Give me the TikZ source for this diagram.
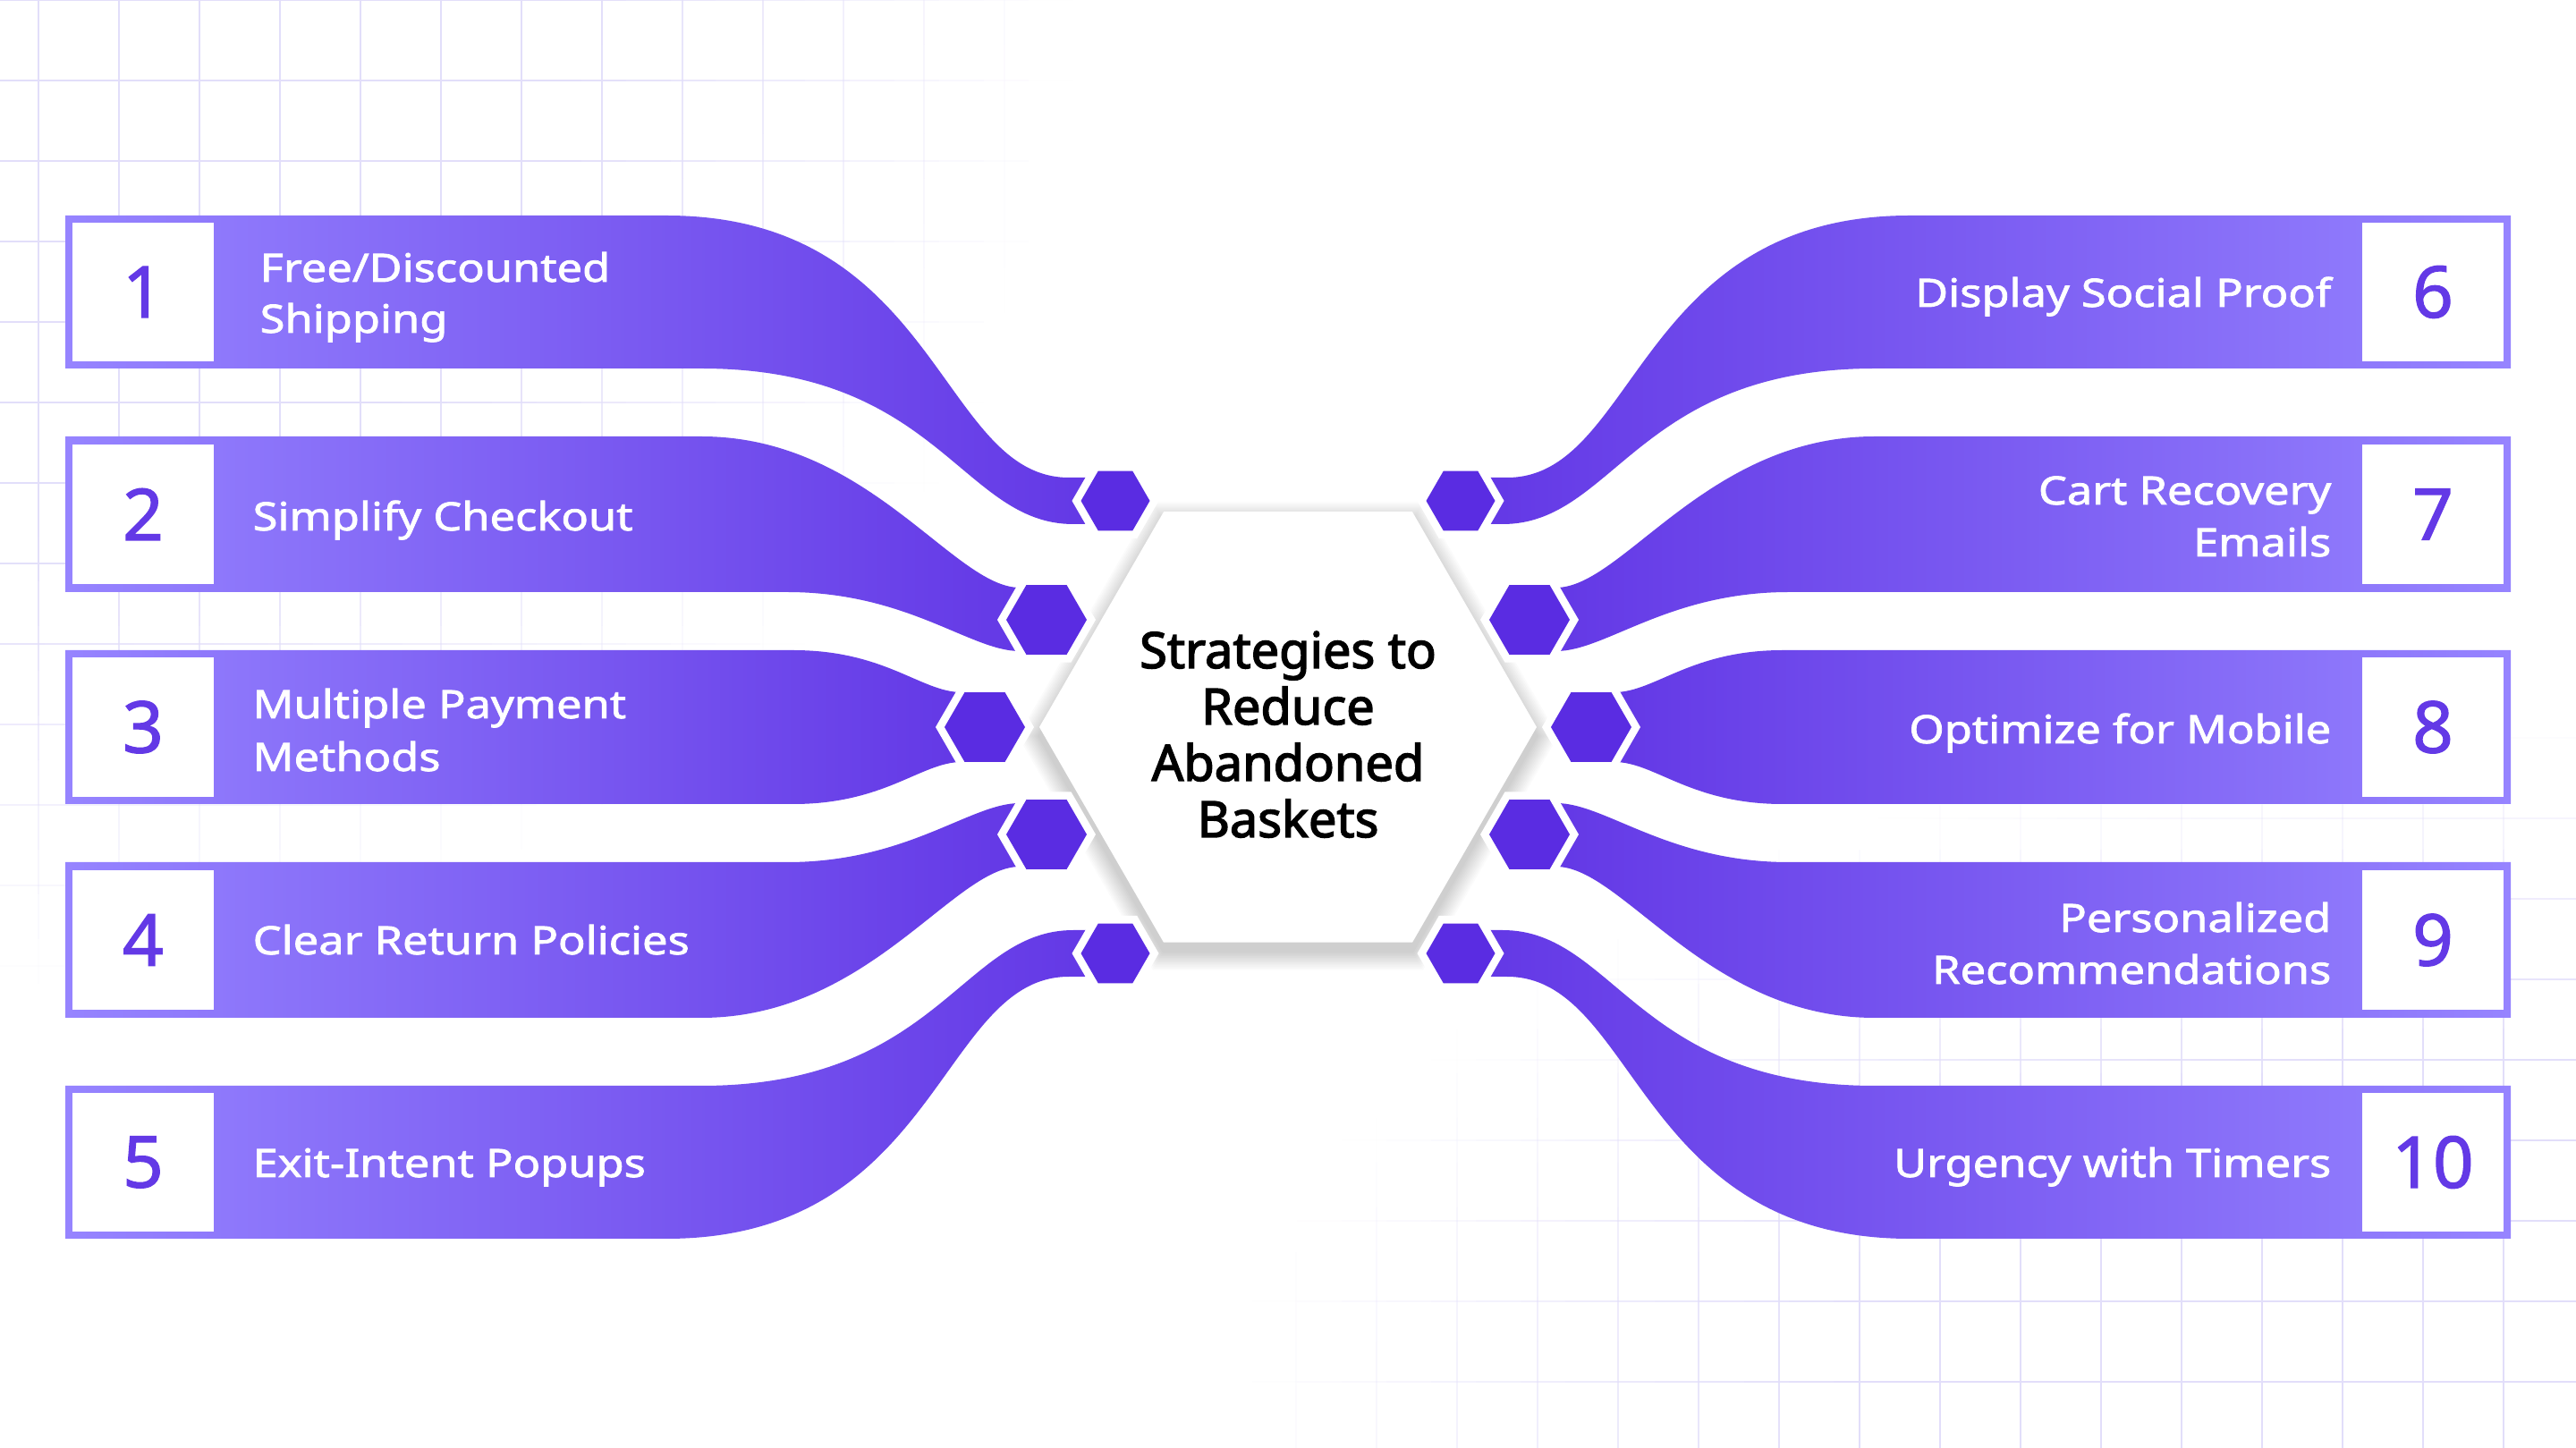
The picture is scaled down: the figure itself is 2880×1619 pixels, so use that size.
\documentclass[tikz,border=0pt]{standalone}
\usepackage{fontspec}
\setmainfont{Noto Sans}
\newfontfamily\bandfont{Noto Sans}[FakeBold=1.8, FakeStretch=1.16]
\newfontfamily\numfont{Noto Sans}[FakeBold=1.6]
\newfontfamily\ctrfont{Noto Sans}[FakeBold=2.6]
\definecolor{bandlight}{RGB}{150,132,255}
\definecolor{banddark}{RGB}{98,54,229}
\definecolor{hexpurple}{RGB}{90,44,226}
\definecolor{numpurple}{RGB}{99,57,230}
\definecolor{gridc}{RGB}{226,222,250}
\newcommand\hexat[3]{({#1+(#3)},{#2}) -- ({#1+0.5*(#3)},{#2+0.866*(#3)}) -- ({#1-0.5*(#3)},{#2+0.866*(#3)}) -- ({#1-(#3)},{#2}) -- ({#1-0.5*(#3)},{#2-0.866*(#3)}) -- ({#1+0.5*(#3)},{#2-0.866*(#3)}) -- cycle}
\tikzset{
  bandL/.style={left color=bandlight, right color=banddark, draw=none},
  bandR/.style={left color=banddark, right color=bandlight, draw=none},
  numbox/.style={fill=white, minimum width=1.58cm, minimum height=1.55cm, inner sep=0pt, text=numpurple, font=\numfont\fontsize{22.7}{24}\selectfont},
  lbl/.style={text=white, font=\bandfont\fontsize{12.4}{15}\selectfont, inner sep=0pt},
  ctr/.style={text=black, font=\ctrfont\fontsize{15.9}{18}\selectfont, anchor=base, inner sep=0pt},
  gridline/.style={draw=gridc, line width=0.6pt},
  smallhexrim/.style={fill=white},
  smallhex/.style={fill=hexpurple},
}
\begin{document}
\begin{tikzpicture}[x=0.01cm,y=-0.01cm]
\useasboundingbox (0,0) rectangle (2880,1619);
\fill[white] (0,0) rectangle (2880,1619);
% top-left grid
\foreach \i in {0,...,13}{
  \pgfmathsetmacro\gx{43+90*\i}
  \foreach \j in {0,...,21}{
    \pgfmathsetmacro\ya{50*\j}
    \pgfmathsetmacro\op{max(0,min(1,2.2*(1-sqrt((\gx/1180)^2+((\ya+25)/1100)^2))))}
    \draw[gridline, opacity=\op] (\gx,\ya) -- (\gx,\ya+50);
  }
}
\foreach \j in {0,...,12}{
  \pgfmathsetmacro\gy{90*\j}
  \foreach \i in {0,...,26}{
    \pgfmathsetmacro\xa{50*\i}
    \pgfmathsetmacro\op{max(0,min(1,2.2*(1-sqrt(((\xa+25)/1180)^2+(\gy/1100)^2))))}
    \draw[gridline, opacity=\op] (\xa,\gy) -- (\xa+50,\gy);
  }
}
% bottom-right grid
\foreach \i in {0,...,15}{
  \pgfmathsetmacro\gx{1449+90*\i}
  \foreach \j in {0,...,16}{
    \pgfmathsetmacro\ya{800+50*\j}
    \pgfmathsetmacro\op{max(0,min(1,2.2*(1-sqrt(((2880-\gx)/1500)^2+((1619-\ya-25)/820)^2))))}
    \draw[gridline, opacity=\op] (\gx,\ya) -- (\gx,\ya+50);
  }
}
\foreach \j in {0,...,8}{
  \pgfmathsetmacro\gy{825+90*\j}
  \foreach \i in {0,...,29}{
    \pgfmathsetmacro\xa{1400+50*\i}
    \pgfmathsetmacro\op{max(0,min(1,2.2*(1-sqrt(((2880-\xa-25)/1500)^2+((1619-\gy)/820)^2))))}
    \draw[gridline, opacity=\op] (\xa,\gy) -- (\xa+50,\gy);
  }
}
% shadow of the central hexagon
\foreach \k in {1,...,12}{
  \fill[black, opacity=0.014] \hexat{1440}{823}{278+2*\k};
}
% left bands
\shade[bandL] (73,241) -- (745,241) .. controls (1050,241) and (1050,534) .. (1195,534) -- (1247,534) -- (1247,586) -- (1200,586) .. controls (1075,586) and (1050,412) .. (784,412) -- (73,412) -- cycle;
\shade[bandL] (73,488) -- (784,488) .. controls (971,488) and (1066,657) .. (1140,657) -- (1170,657) -- (1170,728) -- (1140,728) .. controls (1085,728) and (1015,662) .. (880,662) -- (73,662) -- cycle;
\shade[bandL] (73,727) -- (887,727) .. controls (990,727) and (1030,774) .. (1075,774) -- (1101,774) -- (1101,852) -- (1075,852) .. controls (1030,852) and (990,899) .. (887,899) -- (73,899) -- cycle;
\shade[bandL] (73,1138) -- (784,1138) .. controls (971,1138) and (1066,969) .. (1140,969) -- (1170,969) -- (1170,898) -- (1140,898) .. controls (1085,898) and (1015,964) .. (880,964) -- (73,964) -- cycle;
\shade[bandL] (73,1385) -- (745,1385) .. controls (1050,1385) and (1050,1092) .. (1195,1092) -- (1247,1092) -- (1247,1040) -- (1200,1040) .. controls (1075,1040) and (1050,1214) .. (784,1214) -- (73,1214) -- cycle;
% right bands (mirror)
\begin{scope}[shift={(2880,0)}, xscale=-1]
\shade[bandR] (73,241) -- (745,241) .. controls (1050,241) and (1050,534) .. (1195,534) -- (1247,534) -- (1247,586) -- (1200,586) .. controls (1075,586) and (1050,412) .. (784,412) -- (73,412) -- cycle;
\shade[bandR] (73,488) -- (784,488) .. controls (971,488) and (1066,657) .. (1140,657) -- (1170,657) -- (1170,728) -- (1140,728) .. controls (1085,728) and (1015,662) .. (880,662) -- (73,662) -- cycle;
\shade[bandR] (73,727) -- (887,727) .. controls (990,727) and (1030,774) .. (1075,774) -- (1101,774) -- (1101,852) -- (1075,852) .. controls (1030,852) and (990,899) .. (887,899) -- (73,899) -- cycle;
\shade[bandR] (73,1138) -- (784,1138) .. controls (971,1138) and (1066,969) .. (1140,969) -- (1170,969) -- (1170,898) -- (1140,898) .. controls (1085,898) and (1015,964) .. (880,964) -- (73,964) -- cycle;
\shade[bandR] (73,1385) -- (745,1385) .. controls (1050,1385) and (1050,1092) .. (1195,1092) -- (1247,1092) -- (1247,1040) -- (1200,1040) .. controls (1075,1040) and (1050,1214) .. (784,1214) -- (73,1214) -- cycle;
\end{scope}
% small hexagons
\foreach \cx/\cy/\r in {1247/560/38.5, 1170/693/45, 1101/813/45, 1170/933/45, 1247/1066/38.5,
                        1633/560/38.5, 1710/693/45, 1779/813/45, 1710/933/45, 1633/1066/38.5}{
  \fill[smallhexrim] \hexat{\cx}{\cy}{\r+10};
  \fill[smallhex] \hexat{\cx}{\cy}{\r};
}
% central hexagon
\fill[white] \hexat{1440}{813}{278};
\node[ctr] (c1) at (1440,747) {Strategies to};
\node[ctr] (c2) at (1440,810) {Reduce};
\node[ctr] (c3) at (1440,873) {Abandoned};
\node[ctr] (c4) at (1440,936) {Baskets};
% number boxes
\node[numbox] (b1) at (160,326.5) {1};
\node[numbox] (b2) at (160,575) {2};
\node[numbox] (b3) at (160,813) {3};
\node[numbox] (b4) at (160,1051) {4};
\node[numbox] (b5) at (160,1299.5) {5};
\node[numbox] (b6) at (2720,326.5) {6};
\node[numbox] (b7) at (2720,575) {7};
\node[numbox] (b8) at (2720,813) {8};
\node[numbox] (b9) at (2720,1051) {9};
\node[numbox] (b10) at (2720,1299.5) {10};
% labels
\node[lbl, anchor=base west] (l1a) at (290,315) {Free/Discounted};
\node[lbl, anchor=base west] (l1b) at (290,372) {Shipping};
\node[lbl, anchor=base west] (l2) at (282,593) {Simplify Checkout};
\node[lbl, anchor=base west] (l3a) at (282,803) {Multiple Payment};
\node[lbl, anchor=base west] (l3b) at (282,862) {Methods};
\node[lbl, anchor=base west] (l4) at (282,1067) {Clear Return Policies};
\node[lbl, anchor=base west] (l5) at (282,1316) {Exit-Intent Popups};
\node[lbl, anchor=base east] (r6) at (2607,343) {Display Social Proof};
\node[lbl, anchor=base east] (r7a) at (2607,564) {Cart Recovery};
\node[lbl, anchor=base east] (r7b) at (2607,622) {Emails};
\node[lbl, anchor=base east] (r8) at (2607,831) {Optimize for Mobile};
\node[lbl, anchor=base east] (r9a) at (2607,1042) {Personalized};
\node[lbl, anchor=base east] (r9b) at (2607,1100) {Recommendations};
\node[lbl, anchor=base east] (r10) at (2607,1316) {Urgency with Timers};
\end{tikzpicture}
\end{document}
